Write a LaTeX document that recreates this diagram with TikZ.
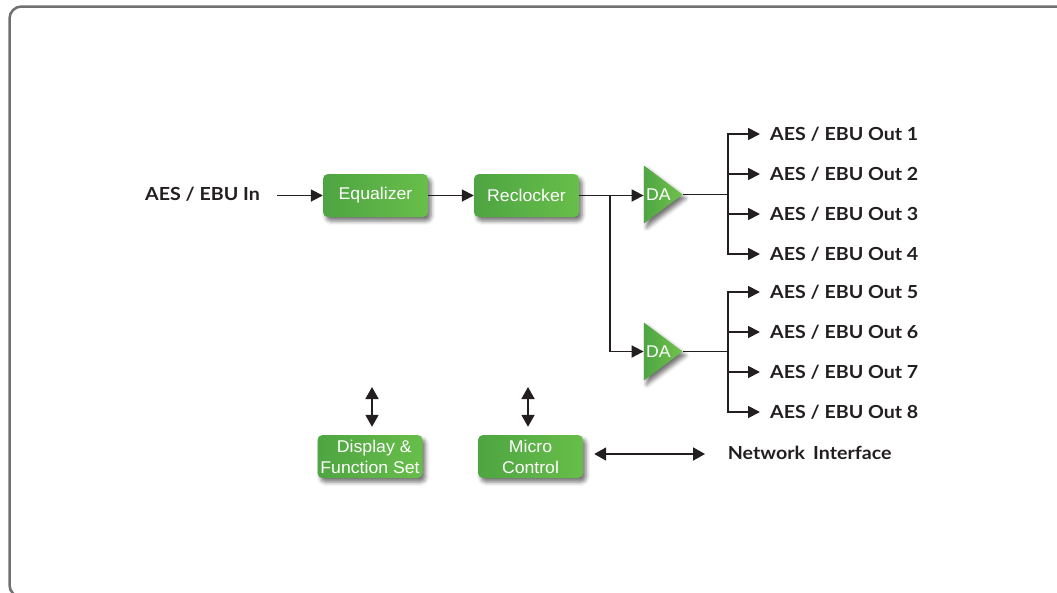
\documentclass[tikz,border=0pt]{standalone}
\usepackage{fontspec}
\newfontfamily\labfont[FakeStretch=1.09]{Lato}
\newfontfamily\boxfont[FakeStretch=1.04]{Liberation Sans}
\usetikzlibrary{arrows.meta,shadows.blur,shapes.geometric}
\definecolor{gdark}{RGB}{78,165,66}
\definecolor{glight}{RGB}{112,194,76}
\definecolor{gmid}{RGB}{104,190,73}
\definecolor{bordergray}{RGB}{112,112,114}
\definecolor{ink}{RGB}{35,31,32}
\begin{document}
\begin{tikzpicture}[x=1pt,y=-1pt,
  gshadow/.style={blur shadow={shadow xshift=3pt,shadow yshift=-4pt,shadow blur radius=4pt,shadow opacity=55}},
  greenbox/.style={rounded corners=5pt, minimum width=105pt, minimum height=43pt, inner sep=0pt,
    left color=gdark, middle color=glight, right color=gmid, gshadow,
    text=white, font=\boxfont\fontsize{17}{21}\selectfont, align=center},
  datri/.style={isosceles triangle, isosceles triangle stretches, shape border rotate=0,
    minimum height=36pt, minimum width=58pt, inner sep=0pt,
    left color=gdark, right color=glight, gshadow,
    text=white, font=\boxfont\fontsize{17}{21}\selectfont},
  lbl/.style={font=\labfont\bfseries\fontsize{18}{22}\selectfont, text=ink, anchor=west, inner sep=0pt},
  wire/.style={line width=1.8pt, draw=ink},
  arr/.style={wire, -{Triangle[length=12pt,width=12pt]}},
  darr/.style={wire, {Triangle[length=12pt,width=13pt]}-{Triangle[length=12pt,width=13pt]}}
]
\useasboundingbox (0,0) rectangle (1057,592);
\begin{scope}
  \clip (0,0) rectangle (1057,592);
  \draw[bordergray, line width=2.5pt, rounded corners=12pt] (9.5,6.5) rectangle (1100,597);
\end{scope}

% main chain
\node[lbl] (in) at (145,194.5) {AES / EBU In};
\node[greenbox] (eq) at (375.5,195.5) {Equalizer};
\node[greenbox] (rc) at (526.5,195.5) {Reclocker};
\node[datri, anchor=apex] (da1) at (683,194.5) {DA};
\node[datri, anchor=apex] (da2) at (683,351.5) {DA};

\draw[arr, shorten <=17pt] (in.east |- eq.west) -- (eq.west);
\draw[arr] (eq.east) -- (rc.west);
\draw[arr] (rc.east) -- (rc.east -| da1.west);
\coordinate (br) at (610,195.5);
\draw[arr] (br) |- (da2.west);

% outputs
\node[lbl] (o1) at (770,134) {AES / EBU Out 1};
\node[lbl] (o2) at (770,174) {AES / EBU Out 2};
\node[lbl] (o3) at (770,214) {AES / EBU Out 3};
\node[lbl] (o4) at (770,254) {AES / EBU Out 4};
\node[lbl] (o5) at (770,292) {AES / EBU Out 5};
\node[lbl] (o6) at (770,332) {AES / EBU Out 6};
\node[lbl] (o7) at (770,372) {AES / EBU Out 7};
\node[lbl] (o8) at (770,412) {AES / EBU Out 8};

\coordinate (j1) at (728,194.5);
\coordinate (j2) at (728,351.5);
\draw[wire] (da1.apex) -- (j1);
\draw[wire] (da2.apex) -- (j2);
\foreach \i in {1,2,3,4} \draw[arr, shorten >=10pt] (j1) |- (o\i.west);
\foreach \i in {5,6,7,8} \draw[arr, shorten >=10pt] (j2) |- (o\i.west);

% control section
\node[greenbox] (disp) at (370,456.5) {\hspace{0.5em}Display \&\\Function Set};
\node[greenbox] (mc) at (530.5,456.5) {Micro\\Control};
\coordinate (dt) at (372,387);
\coordinate (mt) at (528,387);
\draw[darr, shorten >=8pt] (dt) -- (dt |- disp.north);
\draw[darr, shorten >=8pt] (mt) -- (mt |- mc.north);

\node[lbl] (net) at (727.7,453) {Network\hspace{0.45em}Interface};
\coordinate (nw) at (705,454);
\draw[darr, shorten <=11pt] (mc.east |- nw) -- (nw);
\end{tikzpicture}
\end{document}
